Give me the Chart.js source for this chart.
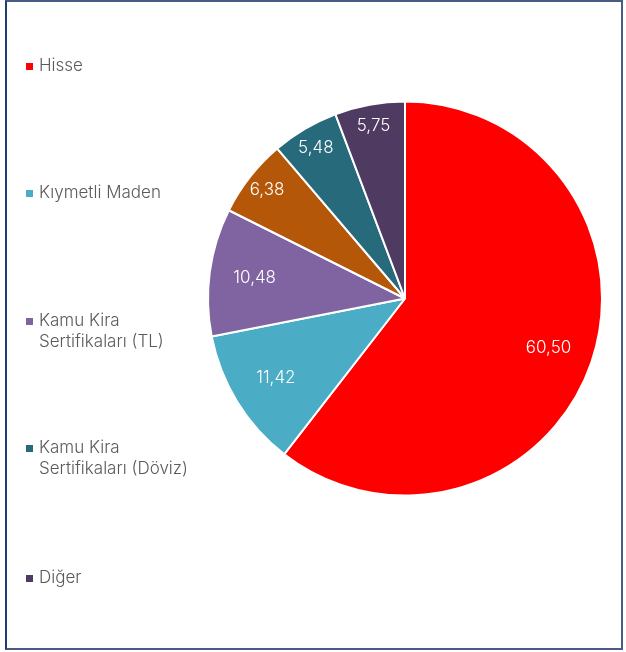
<!DOCTYPE html>
<html>
<head>
<meta charset="utf-8">
<script src="https://cdn.jsdelivr.net/npm/chart.js@4/dist/chart.umd.min.js"></script>
<style>
  html, body { margin: 0; padding: 0; background: #fff; }
  #wrap { position: relative; width: 626px; height: 652px; overflow: hidden; }
  #frame { position: absolute; left: 5px; top: 0px; width: 614px; height: 646px; border: 2px solid #4a5c86; border-left-color: #1f3b72; pointer-events: none; }
  canvas { position: absolute; left: 0; top: 0; }
  #legend { position: absolute; left: 0; top: 0; font-family: Inter, Lato, sans-serif; font-weight: 300; font-size: 17px; color: #5a5a5a; }
  .item { position: absolute; left: 26px; width: 200px; display: flex; align-items: flex-start; line-height: 21px; }
  .sw { width: 7px; height: 7px; margin-top: 8px; margin-right: 6px; flex: none; }
  .tx { width: 165px; }
</style>
</head>
<body>
<div id="wrap">
  <canvas id="c" width="626" height="652"></canvas>
  <div id="legend"></div>
  <div id="frame"></div>
</div>
<script>
const categories = ["Hisse", "Kıymetli Maden", "Kamu Kira Sertifikaları (TL)", "", "Kamu Kira Sertifikaları (Döviz)", "Diğer"];
const values = [60.50, 11.42, 10.48, 6.38, 5.48, 5.75];
const colors = ["#ff0000", "#4bacc6", "#8064a2", "#b55708", "#276a7b", "#4f3b62"];
const legendTops = [55, 182, 310, 0, 437, 567];

const labelPlugin = {
  id: 'sliceLabels',
  afterDatasetsDraw(chart) {
    const ctx = chart.ctx;
    const meta = chart.getDatasetMeta(0);
    ctx.save();
    ctx.fillStyle = '#ffffff';
    ctx.font = '300 17px Inter, Lato, sans-serif';
    ctx.textAlign = 'center';
    ctx.textBaseline = 'middle';
    meta.data.forEach((arc, i) => {
      const p = arc.getProps(['x', 'y', 'startAngle', 'endAngle', 'outerRadius'], true);
      const mid = (p.startAngle + p.endAngle) / 2;
      const f = values[i] > 9 ? 0.77 : 0.89;
      const r = p.outerRadius * f;
      const txt = values[i].toFixed(2).replace('.', ',');
      ctx.fillText(txt, p.x + Math.cos(mid) * r, p.y + Math.sin(mid) * r);
    });
    ctx.restore();
  }
};

const chart = new Chart(document.getElementById('c'), {
  type: 'pie',
  data: {
    labels: categories,
    datasets: [{
      data: values,
      backgroundColor: colors,
      borderColor: '#ffffff',
      borderWidth: 2
    }]
  },
  options: {
    responsive: false,
    animation: false,
    layout: { padding: { left: 207, right: 23, top: 100, bottom: 155 } },
    plugins: {
      legend: { display: false },
      tooltip: { enabled: false }
    }
  },
  plugins: [labelPlugin]
});

const legendEl = document.getElementById('legend');
const items = Chart.controllers.pie.overrides.plugins.legend.labels.generateLabels(chart);
items.forEach(it => {
  if (!it.text) return;
  const d = document.createElement('div');
  d.className = 'item';
  d.style.top = legendTops[it.index] + 'px';
  const s = document.createElement('span');
  s.className = 'sw';
  s.style.background = it.fillStyle;
  const t = document.createElement('span');
  t.className = 'tx';
  t.textContent = it.text;
  d.appendChild(s); d.appendChild(t);
  legendEl.appendChild(d);
});
</script>
</body>
</html>
